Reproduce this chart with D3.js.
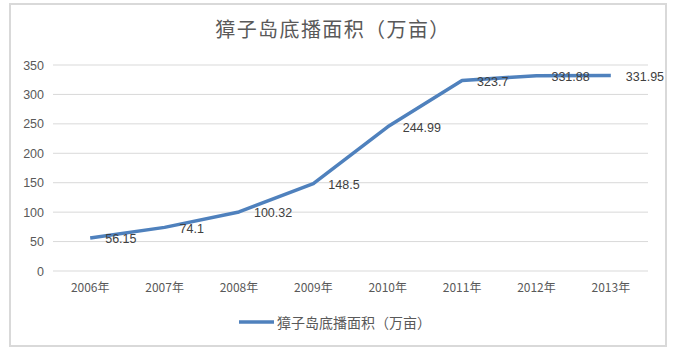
<!DOCTYPE html>
<html><head><meta charset="utf-8">
<script src="https://cdn.jsdelivr.net/npm/d3@7"></script>
<style>body{margin:0;background:#fff}</style>
</head><body>
<svg id="c" width="675" height="358"></svg>
<script>
const title = "獐子岛底播面积（万亩）";
const categories = ["2006年","2007年","2008年","2009年","2010年","2011年","2012年","2013年"];
const values = [56.15, 74.1, 100.32, 148.5, 244.99, 323.7, 331.88, 331.95];
const labels = ["56.15","74.1","100.32","148.5","244.99","323.7","331.88","331.95"];
const yTicks = [0,50,100,150,200,250,300,350];

const svg = d3.select("#c");
const font = "'Noto Sans CJK SC','Microsoft YaHei',sans-serif";
svg.append("rect").attr("x",10).attr("y",4).attr("width",656).attr("height",342)
  .attr("fill","#fff").attr("stroke","#d9d9d9").attr("stroke-width",2);

const x = d3.scaleBand().domain(categories).range([53,648]);
const y = d3.scaleLinear().domain([0,350]).range([271,65]);

svg.append("text").attr("x",333).attr("y",37).attr("text-anchor","middle")
  .attr("font-family",font).attr("font-size",20).attr("letter-spacing",1.4)
  .attr("fill","#595959").text(title);

const g = svg.append("g");
g.selectAll("line.grid").data(yTicks).join("line").attr("class","grid")
  .attr("x1",53).attr("x2",648).attr("y1",d=>y(d)).attr("y2",d=>y(d))
  .attr("stroke","#d9d9d9").attr("stroke-width",1);

const yAxis = d3.axisLeft(y).tickValues(yTicks).tickSize(0).tickPadding(0);
const ya = svg.append("g").attr("transform","translate(44,0)").call(yAxis);
ya.select(".domain").remove();
ya.selectAll("text").attr("font-family","'Liberation Sans',Arial,sans-serif").attr("font-size",12.5).attr("fill","#595959");

const xAxis = d3.axisBottom(x).tickSize(0).tickPadding(0);
const xa = svg.append("g").attr("transform","translate(0,283)").call(xAxis);
xa.select(".domain").remove();
xa.selectAll("text").attr("font-family",font).attr("font-size",12).attr("fill","#595959");

const cx = d => x(d) + x.bandwidth()/2;
const line = d3.line().x((d,i)=>cx(categories[i])).y(d=>y(d));
svg.append("path").datum(values).attr("d",line).attr("fill","none")
  .attr("stroke","#4f81bd").attr("stroke-width",3.5).attr("stroke-linejoin","round");

svg.selectAll("text.lbl").data(values).join("text").attr("class","lbl")
  .attr("x",(d,i)=>cx(categories[i])+15).attr("y",d=>y(d)+5.5)
  .attr("font-family","'Liberation Sans',Arial,sans-serif").attr("font-size",12.5).attr("fill","#404040")
  .text((d,i)=>labels[i]);

svg.append("line").attr("x1",239).attr("x2",274).attr("y1",322).attr("y2",322)
  .attr("stroke","#4f81bd").attr("stroke-width",3.5);
svg.append("text").attr("x",277).attr("y",328).attr("font-family",font).attr("font-size",14)
  .attr("fill","#595959").text(title);
</script>
</body></html>
